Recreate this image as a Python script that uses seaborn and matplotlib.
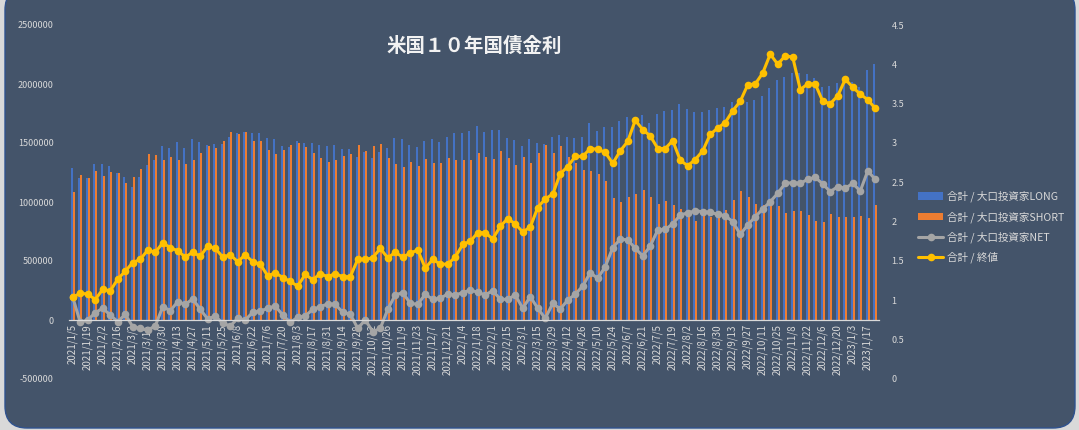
import matplotlib
matplotlib.use("Agg")
import matplotlib.pyplot as plt
from matplotlib.patches import FancyBboxPatch
from matplotlib.transforms import IdentityTransform
import seaborn as sns
import numpy as np
import pandas as pd

# weekly data, every Tuesday from 2021/1/5
dates = pd.date_range("2021-01-05", periods=108, freq="7D")
date_labels = [f"{d.year}/{d.month}/{d.day}" for d in dates]

long_pos = [
    1286000, 1206000, 1201000, 1322000, 1322000, 1305000, 1243000, 1215000, 1130000, 1209000,
    1314000, 1356000, 1475000, 1460000, 1511000, 1455000, 1537000, 1506000, 1483000, 1489000,
    1492000, 1548000, 1588000, 1591000, 1582000, 1582000, 1540000, 1531000, 1477000, 1469000,
    1520000, 1497000, 1503000, 1483000, 1475000, 1483000, 1446000, 1449000, 1384000, 1426000,
    1376000, 1421000, 1460000, 1540000, 1531000, 1483000, 1463000, 1517000, 1534000, 1511000,
    1548000, 1588000, 1588000, 1604000, 1644000, 1596000, 1610000, 1610000, 1545000, 1525000,
    1475000, 1531000, 1503000, 1492000, 1548000, 1568000, 1554000, 1545000, 1554000, 1667000,
    1602000, 1635000, 1638000, 1689000, 1723000, 1701000, 1737000, 1672000, 1746000, 1774000,
    1780000, 1831000, 1786000, 1765000, 1765000, 1780000, 1799000, 1808000, 1850000, 1850000,
    1850000, 1864000, 1898000, 1969000, 2034000, 2062000, 2091000, 2096000, 2085000, 2048000,
    1977000, 1986000, 2006000, 2040000, 2020000, 1977000, 2119000, 2170000,
]
short_pos = [
    1087000, 1229000, 1201000, 1263000, 1220000, 1257000, 1249000, 1164000, 1209000, 1280000,
    1404000, 1398000, 1356000, 1384000, 1356000, 1322000, 1356000, 1412000, 1477000, 1460000,
    1517000, 1591000, 1574000, 1591000, 1517000, 1517000, 1441000, 1407000, 1441000, 1483000,
    1503000, 1463000, 1412000, 1370000, 1342000, 1356000, 1390000, 1407000, 1483000, 1432000,
    1475000, 1494000, 1376000, 1322000, 1299000, 1339000, 1302000, 1362000, 1328000, 1333000,
    1373000, 1356000, 1356000, 1356000, 1412000, 1384000, 1364000, 1432000, 1376000, 1314000,
    1379000, 1333000, 1412000, 1483000, 1412000, 1475000, 1385000, 1328000, 1271000, 1263000,
    1240000, 1181000, 1031000, 1003000, 1045000, 1068000, 1102000, 1045000, 983000, 1008000,
    975000, 941000, 909000, 840000, 904000, 870000, 898000, 932000, 1017000, 1096000,
    1045000, 983000, 975000, 966000, 966000, 904000, 924000, 924000, 890000, 842000,
    831000, 898000, 876000, 876000, 870000, 881000, 862000, 975000,
]
net_pos = [
    192000, -20000, 0, 62000, 99000, 42000, -14000, 48000, -57000, -71000,
    -85000, -51000, 113000, 79000, 155000, 133000, 178000, 90000, 8000, 34000,
    -28000, -51000, 14000, 0, 65000, 76000, 99000, 119000, 42000, -20000,
    23000, 34000, 90000, 113000, 136000, 133000, 65000, 50000, -71000, 0,
    -99000, -71000, 90000, 212000, 232000, 141000, 133000, 218000, 175000, 184000,
    220000, 212000, 232000, 254000, 235000, 212000, 249000, 175000, 175000, 212000,
    99000, 198000, 99000, 14000, 141000, 93000, 169000, 218000, 288000, 401000,
    353000, 452000, 613000, 686000, 678000, 608000, 542000, 627000, 763000, 768000,
    814000, 890000, 908000, 925000, 918000, 912000, 896000, 884000, 833000, 726000,
    805000, 876000, 940000, 1003000, 1074000, 1158000, 1164000, 1158000, 1192000, 1209000,
    1153000, 1088000, 1130000, 1116000, 1158000, 1093000, 1263000, 1192000,
]
close_yield = [
    1.04, 1.09, 1.08, 1.01, 1.14, 1.12, 1.27, 1.37, 1.48, 1.52,
    1.64, 1.61, 1.73, 1.67, 1.63, 1.55, 1.61, 1.56, 1.69, 1.66,
    1.55, 1.58, 1.49, 1.58, 1.49, 1.46, 1.31, 1.35, 1.29, 1.24,
    1.18, 1.33, 1.26, 1.34, 1.30, 1.34, 1.30, 1.30, 1.52, 1.52,
    1.54, 1.66, 1.54, 1.61, 1.55, 1.60, 1.64, 1.41, 1.52, 1.46,
    1.46, 1.55, 1.71, 1.75, 1.86, 1.86, 1.78, 1.94, 2.04, 1.97,
    1.87, 1.93, 2.18, 2.29, 2.35, 2.61, 2.70, 2.83, 2.83, 2.93,
    2.92, 2.88, 2.74, 2.90, 3.02, 3.29, 3.17, 3.09, 2.93, 2.93,
    3.03, 2.78, 2.71, 2.79, 2.90, 3.11, 3.19, 3.26, 3.41, 3.53,
    3.74, 3.75, 3.89, 4.13, 4.00, 4.11, 4.09, 3.68, 3.75, 3.75,
    3.53, 3.50, 3.60, 3.81, 3.71, 3.62, 3.55, 3.44,
]

lbl_long = "合計 / 大口投資家LONG"
lbl_short = "合計 / 大口投資家SHORT"
lbl_net = "合計 / 大口投資家NET"
lbl_close = "合計 / 終値"

sns.set_theme(style="white")
plt.rcParams["font.family"] = ["Noto Sans CJK JP", "DejaVu Sans"]

panel = "#44546a"
txt = "#d9d9d9"

fig = plt.figure(figsize=(10.79, 4.30), dpi=100, facecolor="#d9d9d9")
fig.add_artist(FancyBboxPatch((5, 2), 1070, 440, boxstyle="round,pad=0,rounding_size=22",
                              transform=IdentityTransform(), facecolor=panel,
                              edgecolor="#2f528f", linewidth=1, zorder=0))

ax = fig.add_axes([69 / 1079, 51 / 430, 810 / 1079, 354 / 430])
ax.set_facecolor("none")

bars = pd.DataFrame({
    "date": date_labels * 2,
    "value": long_pos + short_pos,
    "series": [lbl_long] * len(long_pos) + [lbl_short] * len(short_pos),
})
sns.barplot(data=bars, x="date", y="value", hue="series", hue_order=[lbl_long, lbl_short],
            palette=["#4472c4", "#ed7d31"], saturation=1, width=0.56, linewidth=0, ax=ax)

xpos = np.arange(len(date_labels))
sns.lineplot(x=xpos, y=net_pos, ax=ax, color="#a5a5a5", linewidth=2.2, marker="o",
             markersize=5.5, markeredgewidth=0, label=lbl_net)

ax2 = ax.twinx()
sns.lineplot(x=xpos, y=close_yield, ax=ax2, color="#ffc000", linewidth=2.2, marker="o",
             markersize=5.5, markeredgewidth=0, label=lbl_close)

h1, l1 = ax.get_legend_handles_labels()
h2, l2 = ax2.get_legend_handles_labels()
for a in (ax, ax2):
    if a.get_legend() is not None:
        a.get_legend().remove()

for s in ax.spines.values():
    s.set_visible(False)
for s in ax2.spines.values():
    s.set_visible(False)
ax.spines["bottom"].set_visible(True)
ax.spines["bottom"].set_position(("data", 0))
ax.spines["bottom"].set_color(txt)
ax.spines["bottom"].set_linewidth(0.9)

ax.set_xlim(-0.5, len(date_labels) - 0.5)
ax.set_ylim(-500000, 2500000)
ax.set_yticks(np.arange(-500000, 2500001, 500000))
ax.set_yticklabels([str(int(v)) for v in np.arange(-500000, 2500001, 500000)])
ax.set_xticks(xpos[::2])
ax.set_xticklabels(date_labels[::2])
ax.set_xlabel("")
ax.set_ylabel("")

ax2.set_ylim(0, 4.5)
ax2.set_yticks(np.arange(0, 4.51, 0.5))
ax2.set_yticklabels([f"{v:g}" for v in np.arange(0, 4.51, 0.5)])

ax.tick_params(axis="x", length=0, pad=3, labelsize=7, colors=txt, labelrotation=90)
ax.tick_params(axis="y", length=0, pad=11, labelsize=6.5, colors=txt)
ax2.tick_params(axis="y", length=0, pad=9, labelsize=6.5, colors=txt)
ax.grid(False)
ax2.grid(False)

ax.text(0.5, 0.94, "米国１０年国債金利", transform=ax.transAxes, ha="center", va="center",
        fontsize=14, fontweight="bold", color="#f2f2f2")

fig.legend(h1 + h2, l1 + l2, loc="upper left", bbox_to_anchor=(0.842, 0.579), frameon=False,
           fontsize=7.6, labelcolor=txt, handlelength=2.4, handletextpad=0.3, labelspacing=0.85)

fig.savefig("out.png", dpi=100, facecolor=fig.get_facecolor())
